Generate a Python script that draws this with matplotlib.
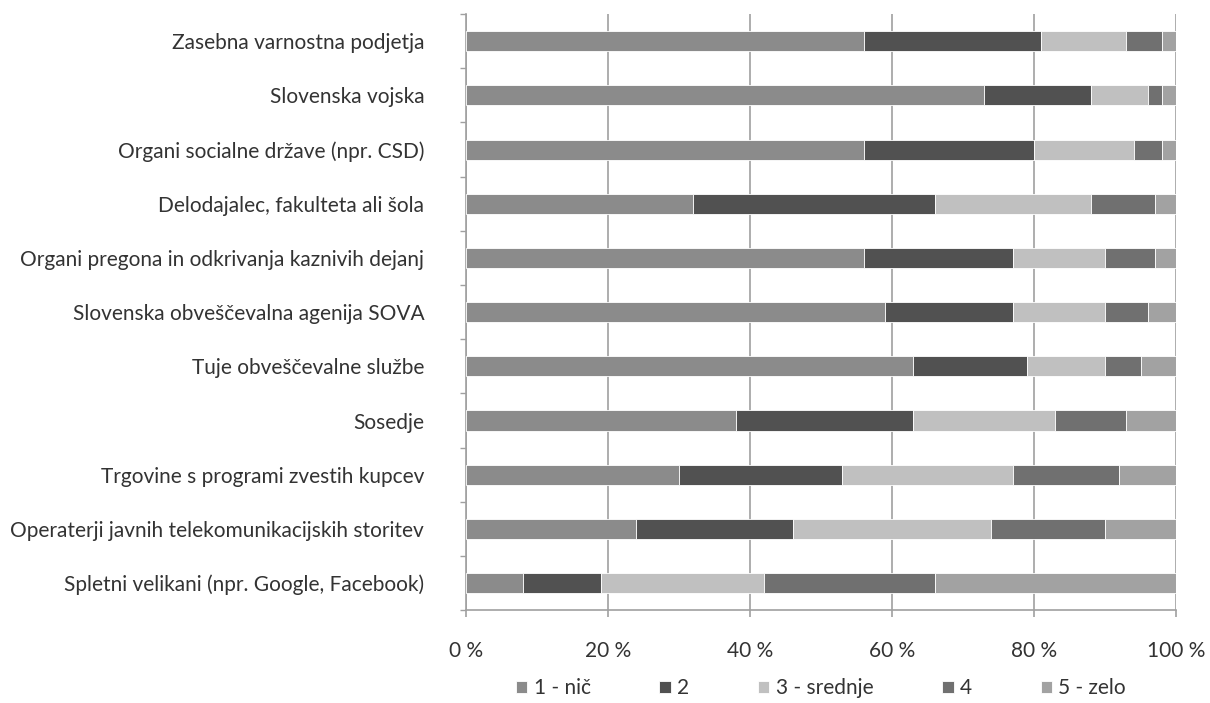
import matplotlib
matplotlib.use("Agg")
import matplotlib.pyplot as plt
from matplotlib.ticker import FuncFormatter, FixedLocator
import numpy as np

plt.rcParams['font.family'] = ['Lato', 'DejaVu Sans']

categories = [
    "Zasebna varnostna podjetja",
    "Slovenska vojska",
    "Organi socialne države (npr. CSD)",
    "Delodajalec, fakulteta ali šola",
    "Organi pregona in odkrivanja kaznivih dejanj",
    "Slovenska obveščevalna agenija SOVA",
    "Tuje obveščevalne službe",
    "Sosedje",
    "Trgovine s programi zvestih kupcev",
    "Operaterji javnih telekomunikacijskih storitev",
    "Spletni velikani (npr. Google, Facebook)",
]

series_names = ["1 - nič", "2", "3 - srednje", "4", "5 - zelo"]

level_1 = [56, 73, 56, 32, 56, 59, 63, 38, 30, 24, 8]
level_2 = [25, 15, 24, 34, 21, 18, 16, 25, 23, 22, 11]
level_3 = [12, 8, 14, 22, 13, 13, 11, 20, 24, 28, 23]
level_4 = [5, 2, 4, 9, 7, 6, 5, 10, 15, 16, 24]
level_5 = [2, 2, 2, 3, 3, 4, 5, 7, 8, 10, 34]

x_ticks = [0, 20, 40, 60, 80, 100]

colors = ["#8b8b8b", "#515151", "#c0c0c0", "#707070", "#a2a2a2"]
text_color = "#333333"
grid_color = "#a0a0a0"
fs = 15

fig = plt.figure(figsize=(12.10, 7.03), dpi=100)
ax = fig.add_axes([0.385, 0.132, 0.587, 0.848])

y = np.arange(len(categories))
left = np.zeros(len(categories))
for name, vals, col in zip(series_names,
                           [level_1, level_2, level_3, level_4, level_5],
                           colors):
    vals = np.array(vals, dtype=float)
    ax.barh(y, vals, left=left, height=0.37, color=col, label=name,
            edgecolor="white", linewidth=0.6, zorder=3)
    left += vals

ax.set_xlim(0, 100)
ax.set_ylim(len(categories) - 0.5, -0.5)

ax.set_yticks(y)
ax.set_yticklabels(categories, fontsize=fs, color=text_color)
ax.yaxis.set_minor_locator(FixedLocator(np.arange(-0.5, len(categories), 1.0)))
ax.tick_params(axis="y", which="major", length=0, pad=30)
ax.tick_params(axis="y", which="minor", length=4, color=grid_color, width=1)

ax.set_xticks(x_ticks)
ax.xaxis.set_major_formatter(FuncFormatter(lambda v, p: f"{int(v)} %"))
ax.tick_params(axis="x", length=5, color=grid_color, width=1.2,
               labelsize=fs, labelcolor=text_color, pad=17)

ax.grid(axis="x", color=grid_color, linewidth=1.2, zorder=0)
ax.set_axisbelow(True)

for side in ["top", "right"]:
    ax.spines[side].set_visible(False)
ax.spines["left"].set_color(grid_color)
ax.spines["left"].set_linewidth(1.2)
ax.spines["bottom"].set_color(grid_color)
ax.spines["bottom"].set_linewidth(1.2)

leg = ax.legend(loc="upper center", bbox_to_anchor=(0.5, -0.09), ncol=5,
                frameon=False, fontsize=fs, handlelength=0.55,
                handleheight=0.55, handletextpad=0.3, columnspacing=3.3,
                borderpad=0.2)
for t in leg.get_texts():
    t.set_color(text_color)

fig.savefig("out.png", dpi=100, facecolor="white")
